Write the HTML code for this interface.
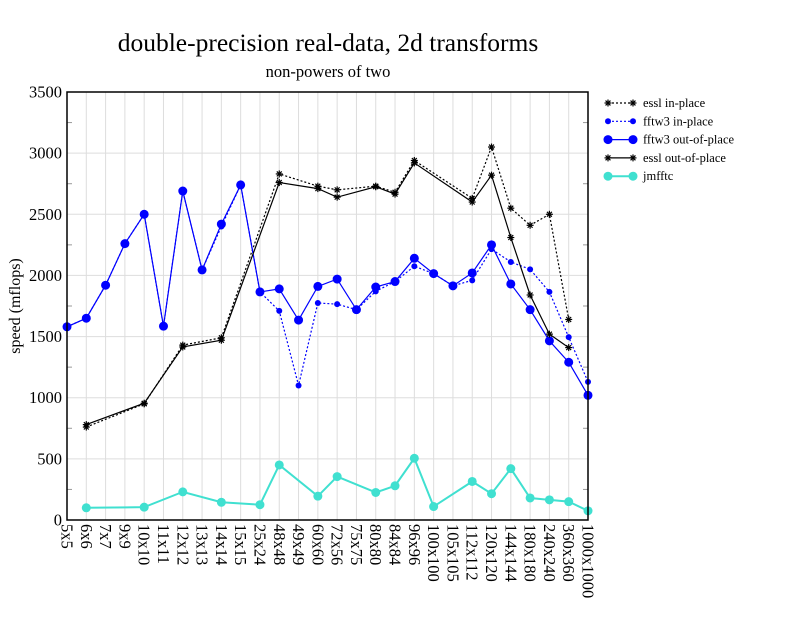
<!DOCTYPE html>
<html><head><meta charset="utf-8"><style>body{margin:0;background:#fff}svg{font-family:"Liberation Serif",serif}</style></head>
<body>
<svg id="c" width="792" height="612" xmlns="http://www.w3.org/2000/svg">
<text x="328" y="51" font-size="25.5" text-anchor="middle">double-precision real-data, 2d transforms</text>
<text x="328" y="77" font-size="16.5" text-anchor="middle">non-powers of two</text>
<text transform="translate(20,306) rotate(-90)" font-size="16" text-anchor="middle">speed (mflops)</text>
<g id="grid"></g><g id="series"></g><g id="axes"></g><g id="legend"></g>
</svg>
<script>
const categories=["5x5","6x6","7x7","9x9","10x10","11x11","12x12","13x13","14x14","15x15","25x24","48x48","49x49","60x60","72x56","75x75","80x80","84x84","96x96","100x100","105x105","112x112","120x120","144x144","180x180","240x240","360x360","1000x1000"];
const yTicks=[0,500,1000,1500,2000,2500,3000,3500];
const N=null;
const esslIn=[N,760,N,N,950,N,1430,N,1490,N,N,2830,N,2730,2700,N,2730,2680,2940,N,N,2630,3050,2550,2410,2500,1640,N];
const fftwIn=[1580,1650,1920,2260,2500,1585,2690,2045,2400,2740,1865,1710,1100,1775,1765,1720,1870,1950,2075,2015,1915,1960,2215,2110,2050,1865,1495,1130];
const fftwOut=[1580,1650,1920,2260,2500,1585,2690,2045,2420,2740,1865,1890,1635,1910,1970,1720,1905,1950,2140,2015,1915,2020,2250,1930,1720,1465,1290,1020];
const esslOut=[N,780,N,N,955,N,1415,N,1470,N,N,2760,N,2710,2640,N,2725,2665,2920,N,N,2600,2820,2310,1840,1520,1410,N];
const jmfftc=[N,100,N,N,105,N,230,N,145,N,125,450,N,195,355,N,225,280,505,110,N,315,215,420,180,165,150,75];
const L=67,R=588,T=92,B=520;
const x=i=>L+i*(R-L)/(categories.length-1);
const y=v=>B-v*(B-T)/3500;
const NS="http://www.w3.org/2000/svg";
function mk(t,a,p){const e=document.createElementNS(NS,t);for(const k in a)e.setAttribute(k,a[k]);p.appendChild(e);return e;}
const grid=document.getElementById('grid'),axes=document.getElementById('axes'),ser=document.getElementById('series'),leg=document.getElementById('legend');
categories.forEach((c,i)=>{
 const g=mk('line',{x1:x(i),x2:x(i),y1:T,y2:B,stroke:'#ddd','stroke-width':1},grid);
 
 const t=mk('text',{transform:`translate(${x(i)-5.5},524) rotate(90)`,'font-size':16.5},axes);
 
 t.textContent=c;
});
yTicks.forEach(v=>{
 const g=mk('line',{x1:L,x2:R,y1:y(v),y2:y(v),stroke:'#ddd','stroke-width':1},grid);
 
 const t=mk('text',{x:L-5,y:y(v)+5.5,'font-size':16.5,'text-anchor':'end'},axes);
 
 t.textContent=v;
});
for(let v=250;v<3500;v+=500){mk('line',{x1:L,x2:L+5,y1:y(v),y2:y(v),stroke:'#999'},axes);mk('line',{x1:R-5,x2:R,y1:y(v),y2:y(v),stroke:'#999'},axes);}
const fr=mk('rect',{x:L,y:T,width:R-L,height:B-T,fill:'none',stroke:'#000','stroke-width':1.5},axes);

function star(p,cx,cy){const s=3.5;const g=mk('g',{stroke:'#000','stroke-width':1.2},p);
 mk('line',{x1:cx-s,x2:cx+s,y1:cy,y2:cy},g);mk('line',{x1:cx,x2:cx,y1:cy-s,y2:cy+s},g);
 mk('line',{x1:cx-s*.7,x2:cx+s*.7,y1:cy-s*.7,y2:cy+s*.7},g);mk('line',{x1:cx-s*.7,x2:cx+s*.7,y1:cy+s*.7,y2:cy-s*.7},g);}
const defs=[
 {d:esslIn,name:'essl in-place',col:'#000',dash:'2,2',m:'star'},
 {d:fftwIn,name:'fftw3 in-place',col:'#00f',dash:'2,2',m:'dot',r:3},
 {d:fftwOut,name:'fftw3 out-of-place',col:'#00f',dash:'',m:'dot',r:4.5},
 {d:esslOut,name:'essl out-of-place',col:'#000',dash:'',m:'star'},
 {d:jmfftc,name:'jmfftc',col:'#40e0d0',dash:'',m:'dot',r:4.5,w:2}
];
defs.forEach((s,k)=>{
 const g=mk('g',{},ser);
 
 const pts=[];s.d.forEach((v,i)=>{if(v!==null)pts.push([x(i),y(v)]);});
 mk('polyline',{points:pts.map(p=>p.join(',')).join(' '),fill:'none',stroke:s.col,'stroke-width':s.w||1.2,'stroke-dasharray':s.dash},g);
 pts.forEach(p=>{if(s.m==='star')star(g,p[0],p[1]);else{const c=mk('circle',{cx:p[0],cy:p[1],r:s.r,fill:s.col},g);}});
 const ly=103+k*18.3;
 const lg=mk('g',{},leg);
 
 mk('line',{x1:608,x2:633,y1:ly,y2:ly,stroke:s.col,'stroke-width':s.w||1.2,'stroke-dasharray':s.dash},lg);
 [608,633].forEach(px=>{if(s.m==='star')star(lg,px,ly);else mk('circle',{cx:px,cy:ly,r:s.r,fill:s.col},lg);});
 const t=mk('text',{x:643,y:ly+4,'font-size':12.5},lg);t.textContent=s.name;
});
</script>
</body></html>
